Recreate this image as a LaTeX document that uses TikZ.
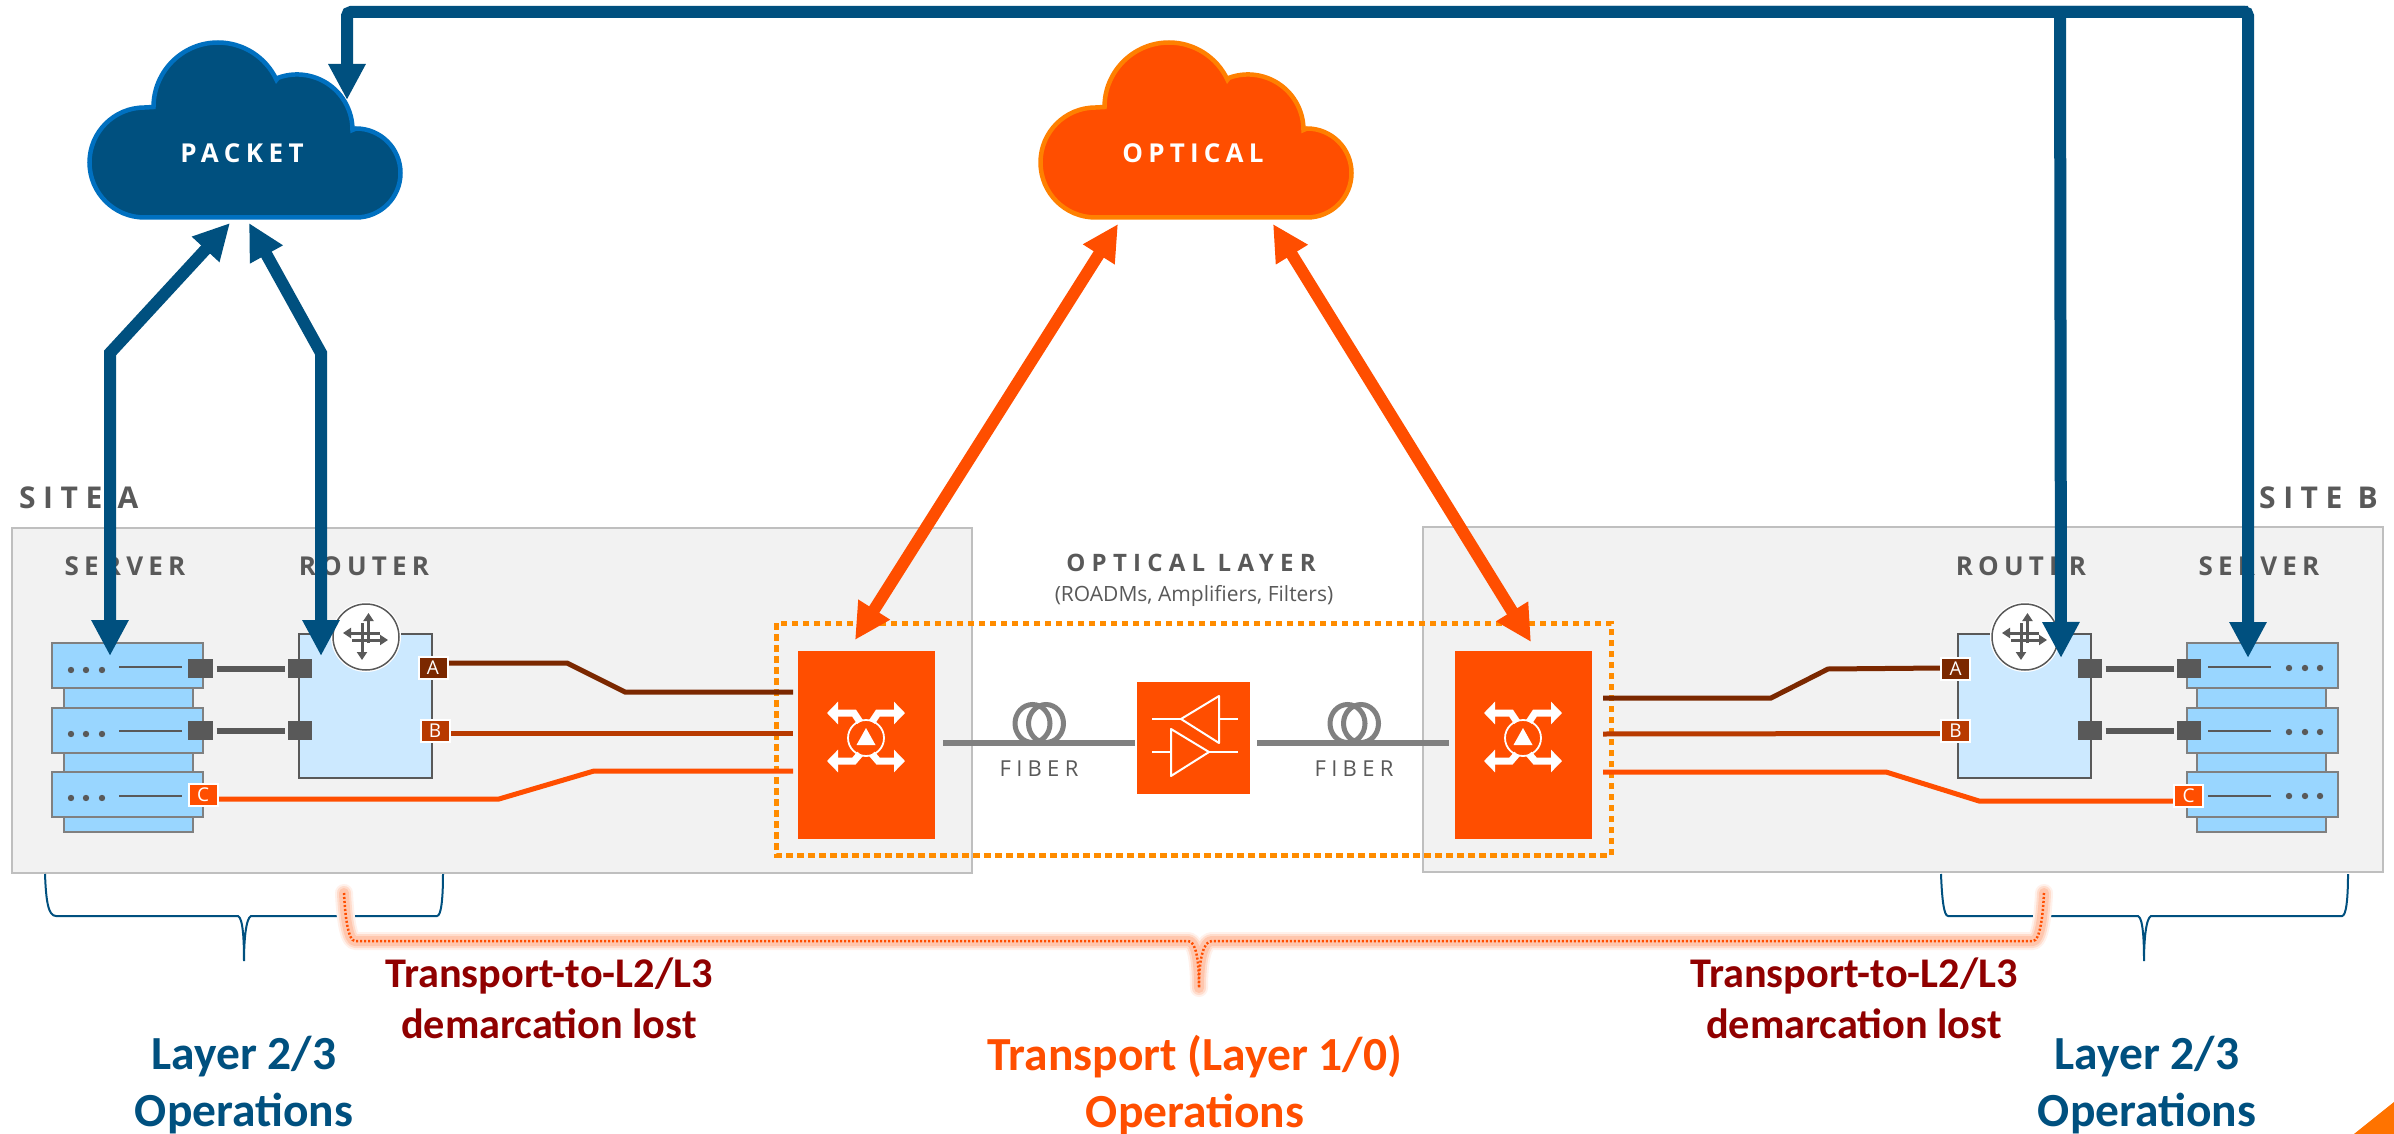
\documentclass[tikz,border=0pt]{standalone}
\usepackage{fontspec}
\usetikzlibrary{arrows.meta}
\setmainfont{Open Sans}
\newfontfamily\osans{Open Sans}
\newfontfamily\carl{Carlito}
\definecolor{navy}{HTML}{00507F}
\definecolor{cloudblue}{HTML}{0070C0}
\definecolor{orng}{HTML}{FF4E00}
\definecolor{cloudorng}{HTML}{FF8000}
\definecolor{dotorng}{HTML}{FF8C00}
\definecolor{gry}{HTML}{595959}
\definecolor{midgry}{HTML}{808080}
\definecolor{srvfill}{HTML}{99D6FF}
\definecolor{rtrfill}{HTML}{CCE9FF}
\definecolor{wireA}{HTML}{7B2800}
\definecolor{wireB}{HTML}{B83A00}
\definecolor{dred}{HTML}{900000}
\newcommand{\lsfont}[3]{\osans#1\fontsize{#2}{#2}\selectfont\addfontfeature{LetterSpace=#3}}
\tikzset{
  sitebox/.style={draw=black!25,fill=black!5,line width=2pt},
  head/.style={inner sep=0,text=gry,font=\lsfont{\bfseries}{26}{20}},
  sitelabel/.style={inner sep=0,text=gry,font=\lsfont{\bfseries}{30}{25}},
  slab/.style={draw=midgry,fill=srvfill,line width=2.5pt,inner sep=0,outer sep=0},
  rtrbox/.style={draw=gry,fill=rtrfill,line width=2.5pt,inner sep=0,outer sep=0,minimum width=133pt,minimum height=144pt},
  port/.style={fill=gry,inner sep=0,outer sep=0,minimum height=19pt},
  link/.style={draw=gry,line width=6pt,shorten >=3.5pt,shorten <=3.5pt},
  tag/.style={draw=white,line width=2pt,inner sep=0,minimum width=29pt,minimum height=22pt,text=white,font=\osans\fontsize{19}{19}\selectfont},
  wire/.style={line width=5pt,miter limit=4},
  roadm/.style={fill=orng,inner sep=0,outer sep=0},
  bluearrow/.style={draw=navy,line width=12pt,{Triangle[width=35pt,length=36pt]}-{Triangle[width=35pt,length=36pt]}},
  blueone/.style={draw=navy,line width=12pt,-{Triangle[width=35pt,length=36pt]}},
  orangearrow/.style={draw=orng,line width=12pt,{Triangle[width=35pt,length=36pt]}-{Triangle[width=35pt,length=36pt]}},
  fiberline/.style={draw=midgry,line width=6pt},
  coil/.style={draw=midgry,line width=5pt},
  brace/.style={draw=navy,line width=2pt},
  bigtext/.style={inner sep=0,align=center,font=\carl\bfseries\fontsize{47.5}{57}\selectfont},
  midtext/.style={inner sep=0,align=center,text=dred,font=\carl\bfseries\fontsize{42.3}{51}\selectfont},
  whitearrow/.style={draw=white,line width=7pt,-{Triangle[width=22pt,length=11pt]}},
  ampline/.style={draw=white,line width=2pt,line join=round},
  rtarrow/.style={draw=gry,line width=3pt,-{Triangle[width=10pt,length=8pt]}},
}
\newcommand{\cloudshape}{(144.5,217.5) arc[start angle=90,end angle=270,radius=55] -- (153.5,107) arc[start angle=180,end angle=335,radius=64.5] -- (278,77.8) arc[start angle=250,end angle=360,radius=55.5] -- (356,128.5) arc[start angle=270,end angle=450,radius=44.5] -- cycle}
% #1 name prefix, #2 slab centre x, #3 slab width, #4 lower centre x, #5 lower width
\newcommand{\serverstack}[5]{
  \node[slab,minimum width=#5 pt,minimum height=24pt] (#1l1) at (#4,698) {};
  \node[slab,minimum width=#5 pt,minimum height=23pt] (#1l2) at (#4,762.5) {};
  \node[slab,minimum width=#5 pt,minimum height=18pt] (#1l3) at (#4,823) {};
  \node[slab,minimum width=#3 pt,minimum height=45pt] (#1s1) at (#2,665.5) {};
  \node[slab,minimum width=#3 pt,minimum height=45pt] (#1s2) at (#2,730.5) {};
  \node[slab,minimum width=#3 pt,minimum height=45pt] (#1s3) at (#2,794.5) {};
}
\newcommand{\srvdetail}[7]{% line x1,x2, dot xs, y line, y dot
  \draw[draw=gry,line width=2.5pt] (#1,#6) -- (#2,#6);
  \fill[gry] (#3,#7) circle[radius=3.2] (#4,#7) circle[radius=3.2] (#5,#7) circle[radius=3.2];
}
\newcommand{\routericon}[2]{
  \begin{scope}[shift={(#1,#2)}]
    \fill[white] (0,0) circle[radius=35];
    \draw[draw=gry,fill=white,line width=1.5pt] (0,0) circle[radius=33];
    \draw[rtarrow] (2.5,6) -- (2.5,-24);
    \draw[rtarrow] (-4,-14) -- (-4,23);
    \draw[rtarrow] (14,-4) -- (-23,-4);
    \draw[rtarrow] (-14,3) -- (22,3);
  \end{scope}
}
\newcommand{\roadmicon}[2]{
  \begin{scope}[shift={(#1,#2)}]
    \draw[white,line width=1.8pt] (0,0) circle[radius=18];
    \fill[white] (0,-10) -- (9.5,7) -- (-9.5,7) -- cycle;
    \draw[whitearrow] (-6,-16) -- (-12,-25) -- (-39,-25);
    \draw[whitearrow] (6,-16) -- (12,-25) -- (39,-25);
    \draw[whitearrow] (-6,16) -- (-12,23) -- (-39,23);
    \draw[whitearrow] (6,16) -- (12,23) -- (39,23);
  \end{scope}
}
\begin{document}
\begin{tikzpicture}[x=1pt,y=-1pt]
\useasboundingbox (0,0) rectangle (2394,1134);
\fill[white] (0,0) rectangle (2394,1134);
\fill[color={rgb,255:red,255;green,115;blue,0}] (2354,1134) -- (2394,1102) -- (2394,1134) -- cycle;

% sites
\path[sitebox] (12,528) rectangle (972,873);
\path[sitebox] (1423,527) rectangle (2383,872);
\node[sitelabel,anchor=west] (siteA) at (19,498) {SITE A};
\node[sitelabel,anchor=east] (siteB) at (2378,498) {SITE B};
\node[head] (srvAlab) at (125,566) {SERVER};
\node[head] (rtrAlab) at (364,566) {ROUTER};
\node[head] (rtrBlab) at (2021,566) {ROUTER};
\node[head] (srvBlab) at (2259,566) {SERVER};
\node[inner sep=0,text=gry,font=\lsfont{\bfseries}{24}{26}] (optlab) at (1191,563) {OPTICAL LAYER};
\node[inner sep=0,text=gry,font=\osans\fontsize{21}{21}\selectfont] (optsub) at (1194,596) {(ROADMs, Amplifiers, Filters)};

% servers
\serverstack{a}{127.5}{151}{128.5}{129}
\serverstack{b}{2262.5}{151}{2261.5}{129}
\srvdetail{119}{182}{71}{86}{102}{667}{670}
\srvdetail{119}{182}{71}{86}{102}{731}{734}
\srvdetail{119}{182}{71}{86}{102}{796}{798}
\srvdetail{2208}{2271}{2289}{2305}{2320}{667}{668}
\srvdetail{2208}{2271}{2289}{2305}{2320}{731}{732}
\srvdetail{2208}{2271}{2289}{2305}{2320}{796}{796}

% routers
\node[rtrbox] (rA) at (365.5,706) {};
\node[rtrbox] (rB) at (2024.5,706) {};
\routericon{366}{637}
\routericon{2025}{637}

% ports and links
\node[port,minimum width=25pt] (sa1) at (200.5,668.5) {};
\node[port,minimum width=25pt] (sa2) at (200.5,730.5) {};
\node[port,minimum width=24pt] (ra1) at (300,668.5) {};
\node[port,minimum width=24pt] (ra2) at (300,730.5) {};
\node[port,minimum width=24pt] (rb1) at (2090,668.5) {};
\node[port,minimum width=24pt] (rb2) at (2090,730.5) {};
\node[port,minimum width=24pt] (sb1) at (2189,668.5) {};
\node[port,minimum width=24pt] (sb2) at (2189,730.5) {};
\draw[link] (sa1) -- (ra1);
\draw[link] (sa2) -- (ra2);
\draw[link] (rb1) -- (sb1);
\draw[link] (rb2) -- (sb2);

% optical layer frame
\draw[draw=dotorng,line width=5pt,dash pattern=on 6.5pt off 4.5pt] (776,623) rectangle (1611,855);

% wires
\coordinate (lA) at (793,692);
\coordinate (lB) at (793,733);
\coordinate (lC) at (793,771);
\coordinate (rAe) at (1603,698);
\coordinate (rBe) at (1603,734);
\coordinate (rCe) at (1603,772);
\coordinate (tAa) at (448,663);
\coordinate (tBa) at (450,733);
\coordinate (tCa) at (218,799);
\draw[wire,draw=wireA] (tAa) -- (567,663) -- (625,692) -- (lA);
\draw[wire,draw=wireB] (tBa) -- (lB);
\draw[wire,draw=orng] (tCa) -- (499,799) -- (594,771) -- (lC);
\coordinate (tAb) at (1941,668);
\coordinate (tBb) at (1941,733.5);
\coordinate (tCb) at (2173,801);
\draw[wire,draw=wireA] (tAb) -- (1828,669) -- (1771,698) -- (rAe);
\draw[wire,draw=wireB] (tBb) -- (rBe);
\draw[wire,draw=orng] (tCb) -- (1979,801) -- (1886,772) -- (rCe);

% tags
\node[tag,fill=wireA] (A1) at (433,668) {A};
\node[tag,fill=wireB] (B1) at (435,731) {B};
\node[tag,fill=orng] (C1) at (203,795) {C};
\node[tag,fill=wireA] (A2) at (1955.5,669) {A};
\node[tag,fill=wireB] (B2) at (1955.5,731) {B};
\node[tag,fill=orng] (C2) at (2188.5,796) {C};

% ROADMs and amplifier
\node[roadm,minimum width=137.5pt,minimum height=188pt] (roadmL) at (866.25,745) {};
\node[roadm,minimum width=137pt,minimum height=188pt] (roadmR) at (1523.5,745) {};
\node[roadm,minimum width=113pt,minimum height=112pt] (amp) at (1193.5,738) {};
\roadmicon{866}{738}
\roadmicon{1523}{738}
\draw[ampline] (1181,719) -- (1219,696) -- (1219,743) -- cycle;
\draw[ampline] (1171,729) -- (1209,752) -- (1171,776) -- cycle;
\draw[ampline] (1152,719) -- (1181,719) (1219,719) -- (1238,719);
\draw[ampline] (1152,752) -- (1171,752) (1209,752) -- (1238,752);

% fibers
\coordinate (fibL) at (943,743);
\coordinate (fibR) at (1449,743);
\draw[fiberline] (fibL) -- ([xshift=-2.5pt]amp.west |- fibL);
\draw[fiberline] ([xshift=7pt]amp.east |- fibR) -- (fibR);
\draw[coil] (1032.5,723.5) ellipse[x radius=17.5,y radius=19];
\draw[coil] (1046,723.5) ellipse[x radius=17.5,y radius=19];
\draw[coil] (1347.5,723.5) ellipse[x radius=17.5,y radius=19];
\draw[coil] (1361,723.5) ellipse[x radius=17.5,y radius=19];
\node[inner sep=0,text=gry,font=\lsfont{}{22}{24}] (fib1) at (1039,769) {FIBER};
\node[inner sep=0,text=gry,font=\lsfont{}{22}{24}] (fib2) at (1354,769) {FIBER};

% clouds
\draw[fill=navy,draw=cloudblue,line width=4.5pt,line join=miter] \cloudshape;
\begin{scope}[xshift=951pt]
\draw[fill=orng,draw=cloudorng,line width=4.5pt,line join=miter] \cloudshape;
\end{scope}
\node[inner sep=0,text=white,font=\lsfont{\bfseries}{26}{21}] (packet) at (242,153) {PACKET};
\node[inner sep=0,text=white,font=\lsfont{\bfseries}{26}{20}] (optical) at (1193,153) {OPTICAL};

% big arrows
\coordinate (pktL) at (230,223);
\coordinate (pktR) at (249,223);
\coordinate (pktT) at (347,100);
\coordinate (srvAt) at (110,656);
\coordinate (rtrAt) at (321,656);
\coordinate (rtrBt) at (2061,658);
\coordinate (srvBt) at (2248,658);
\coordinate (optL) at (1118,224);
\coordinate (optR) at (1273,224);
\coordinate (roL) at (855,640);
\coordinate (roR) at (1531,642);
\draw[bluearrow] (srvAt) -- (110,353) -- (pktL);
\draw[bluearrow] (rtrAt) -- (321,353) -- (pktR);
\draw[blueone,rounded corners=4pt] (2248,12) -- (347,12) -- (pktT);
\draw[blueone,rounded corners=4pt] (2060,12) -- (rtrBt);
\draw[blueone,rounded corners=4pt] (1500,12) -- (2248,12) -- (srvBt);
\draw[orangearrow] (optL) -- (roL);
\draw[orangearrow] (optR) -- (roR);

% braces
\draw[brace] (45,874) .. controls (46,900) and (48,916) .. (56,916) -- (238,916) .. controls (243,918) and (244,940) .. (244,961) .. controls (244,940) and (246,918) .. (251,916) -- (437,916) .. controls (441,916) and (443,900) .. (443,874);
\draw[brace] (1941,874) .. controls (1942,900) and (1944,916) .. (1948,916) -- (2138,916) .. controls (2143,918) and (2144,940) .. (2144,961) .. controls (2144,940) and (2146,918) .. (2151,916) -- (2342,916) .. controls (2346,916) and (2348,900) .. (2348,874);

% glow path
\newcommand{\glowpath}{(344,893) .. controls (345,915) and (348,941) .. (355,941) -- (1188,941) .. controls (1196,941) and (1199,960) .. (1199,988) .. controls (1199,960) and (1203,941) .. (1212,941) -- (2033,941) .. controls (2040,941) and (2043,915) .. (2044,893)}
\draw[draw=orng!8,line width=18pt,line cap=round,line join=round] \glowpath;
\draw[draw=orng!20,line width=14pt,line cap=round,line join=round] \glowpath;
\draw[draw=orng!32,line width=10pt,line cap=round,line join=round] \glowpath;
\draw[draw=orng,line width=2.5pt,dash pattern=on 2pt off 2pt] \glowpath;

% texts
\node[midtext] (dem1) at (549,998.5) {Transport-to-L2/L3\\demarcation lost};
\node[midtext] (dem2) at (1854,998.5) {Transport-to-L2/L3\\demarcation lost};
\node[bigtext,text=navy] (ops1) at (244,1085) {Layer 2/3\\Operations};
\node[bigtext,text=navy] (ops2) at (2147,1085) {Layer 2/3\\Operations};
\node[bigtext,text=orng] (ops3) at (1195,1085) {Transport (Layer 1/0)\\Operations};
\end{tikzpicture}
\end{document}
